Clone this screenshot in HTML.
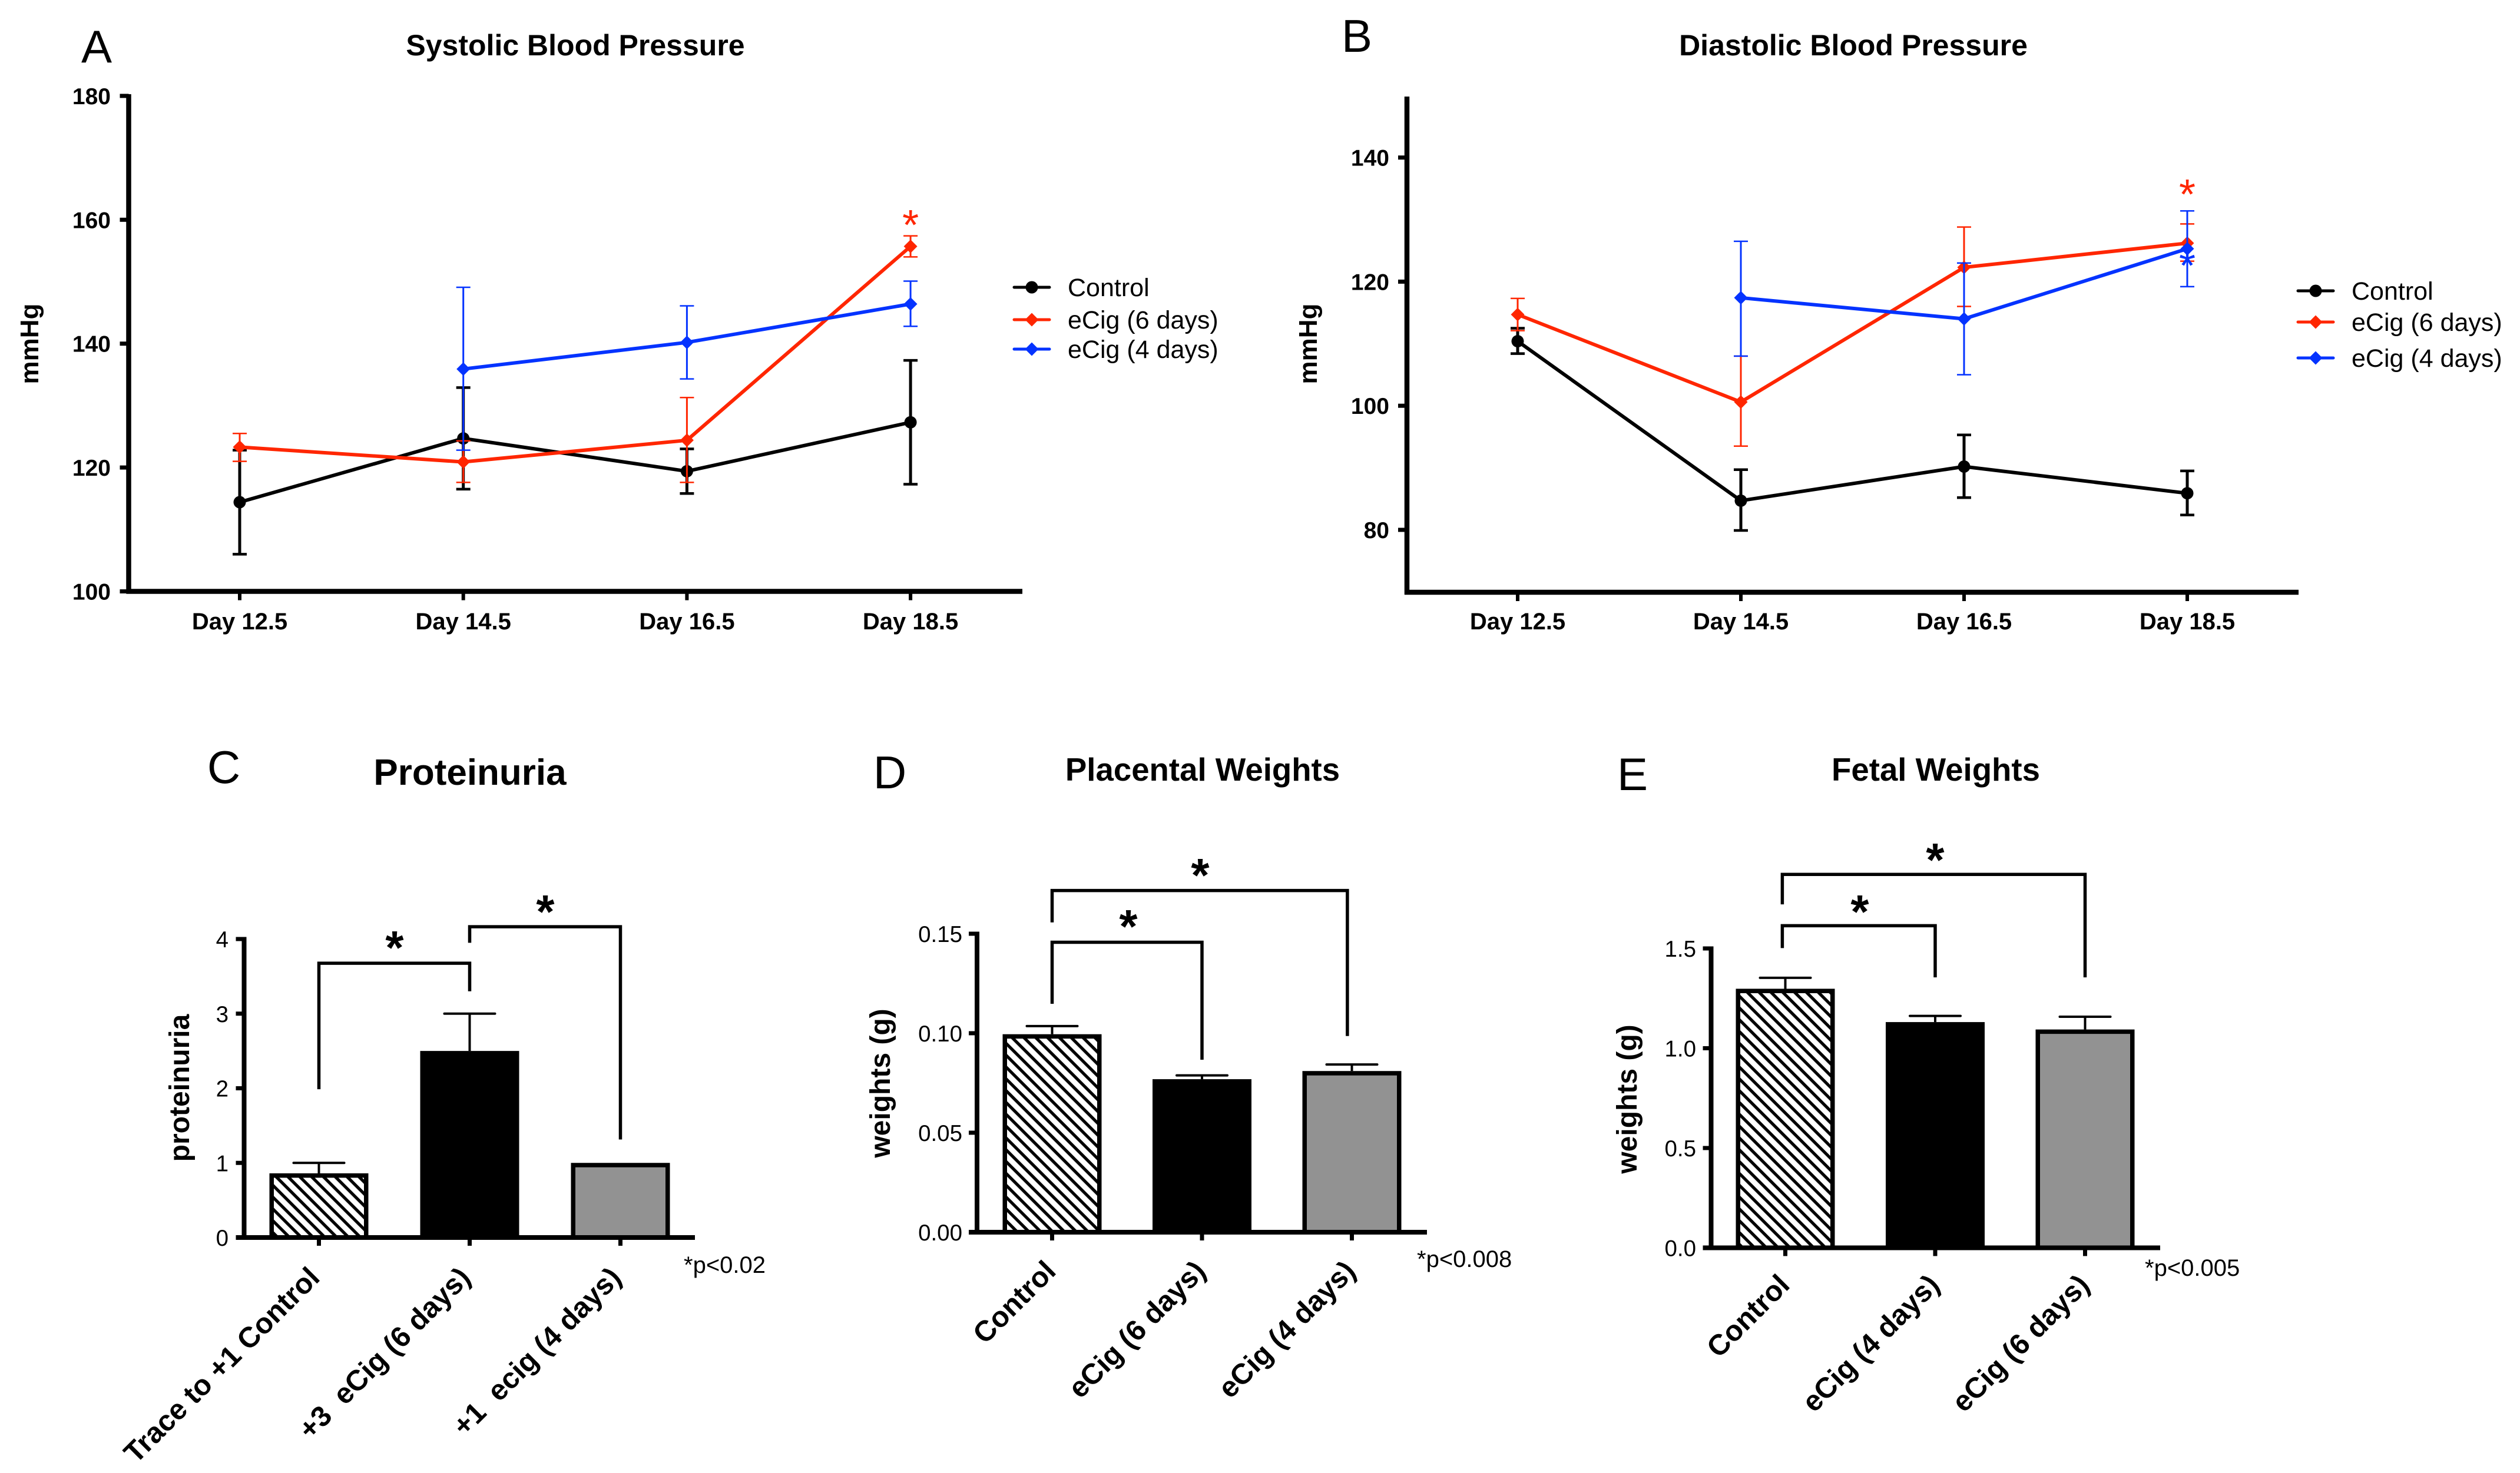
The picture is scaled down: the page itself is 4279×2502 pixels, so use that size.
<!DOCTYPE html>
<html lang="en">
<head>
<meta charset="utf-8">
<title>E-cigarette pregnancy outcomes figure</title>
<style>
html,body{margin:0;padding:0;background:#fff;}
svg{display:block;font-family:"Liberation Sans",Arial,sans-serif;}
text{white-space:pre;}
</style>
</head>
<body>
<svg id="figure" xmlns="http://www.w3.org/2000/svg" width="4279" height="2502" viewBox="0 0 4279 2502">
<rect width="4279" height="2502" fill="#fff"/>
<defs>
<pattern id="hatch" patternUnits="userSpaceOnUse" width="14.2" height="14.2" patternTransform="rotate(45)">
<rect width="14.2" height="14.2" fill="#fff"/>
<rect width="14.2" height="5.2" fill="#000"/>
</pattern>
</defs>
<text x="164" y="106" font-size="78" text-anchor="middle">A</text>
<text x="2304" y="88" font-size="78" text-anchor="middle">B</text>
<text x="380" y="1330" font-size="78" text-anchor="middle">C</text>
<text x="1511" y="1339" font-size="78" text-anchor="middle">D</text>
<text x="2772" y="1342" font-size="78" text-anchor="middle">E</text>
<text x="977" y="94" font-size="50" font-weight="bold" text-anchor="middle">Systolic Blood Pressure</text>
<text x="3147" y="94" font-size="50" font-weight="bold" text-anchor="middle">Diastolic Blood Pressure</text>
<text x="798" y="1333" font-size="62" font-weight="bold" text-anchor="middle">Proteinuria</text>
<text x="2042" y="1326" font-size="54.6" font-weight="bold" text-anchor="middle">Placental Weights</text>
<text x="3287" y="1326" font-size="54.6" font-weight="bold" text-anchor="middle">Fetal Weights</text>
<text transform="translate(65,584) rotate(-90)" font-size="44" font-weight="bold" text-anchor="middle">mmHg</text>
<text transform="translate(2236,584) rotate(-90)" font-size="44" font-weight="bold" text-anchor="middle">mmHg</text>
<text transform="translate(321,1848) rotate(-90)" font-size="48" font-weight="bold" text-anchor="middle">proteinuria</text>
<text transform="translate(1511,1840) rotate(-90)" font-size="48" font-weight="bold" text-anchor="middle">weights (g)</text>
<text transform="translate(2779,1867) rotate(-90)" font-size="48" font-weight="bold" text-anchor="middle">weights (g)</text>
<text x="1161" y="2162" font-size="40">*p&lt;0.02</text>
<text x="2406" y="2152" font-size="40">*p&lt;0.008</text>
<text x="3642" y="2167" font-size="40">*p&lt;0.005</text>
</svg>
<script>
// ---------- Data: blood pressure ----------
const dayLabels = ['Day 12.5', 'Day 14.5', 'Day 16.5', 'Day 18.5'];
const seriesNames = ['Control', 'eCig (6 days)', 'eCig (4 days)'];

const sbpTicks = [100, 120, 140, 160, 180];
const sbpControl = [114.4, 124.7, 119.4, 127.3];
const sbpControlHigh = [122.8, 132.9, 123.0, 137.3];
const sbpControlLow = [106.0, 116.5, 115.8, 117.3];
const sbpSixDays = [123.3, 120.9, 124.4, 155.7];
const sbpSixDaysHigh = [125.5, 124.3, 131.3, 157.4];
const sbpSixDaysLow = [121.0, 117.6, 117.6, 154.0];
const sbpFourDays = [null, 135.9, 140.2, 146.4];
const sbpFourDaysHigh = [null, 149.1, 146.1, 150.1];
const sbpFourDaysLow = [null, 122.8, 134.3, 142.8];

const dbpTicks = [80, 100, 120, 140];
const dbpControl = [110.4, 84.7, 90.2, 85.9];
const dbpControlHigh = [112.5, 89.7, 95.3, 89.5];
const dbpControlLow = [108.4, 79.9, 85.2, 82.4];
const dbpSixDays = [114.7, 100.6, 122.3, 126.2];
const dbpSixDaysHigh = [117.3, 108.0, 128.8, 129.3];
const dbpSixDaysLow = [112.1, 93.5, 116.0, 123.3];
const dbpFourDays = [null, 117.4, 114.0, 125.3];
const dbpFourDaysHigh = [null, 126.5, 123.0, 131.4];
const dbpFourDaysLow = [null, 108.0, 105.0, 119.2];

// ---------- Data: bars ----------
const protCategories = ['Trace to +1 Control', '+3  eCig (6 days)', '+1  ecig (4 days)'];
const protValues = [0.86, 2.5, 1.0];
const protErrorTops = [1.0, 3.0, null];
const protTicks = ['0', '1', '2', '3', '4'];
const protTickValues = [0, 1, 2, 3, 4];

const placCategories = ['Control', 'eCig (6 days)', 'eCig (4 days)'];
const placValues = [0.0995, 0.0769, 0.081];
const placErrorTops = [0.1036, 0.0788, 0.0843];
const placTicks = ['0.00', '0.05', '0.10', '0.15'];
const placTickValues = [0, 0.05, 0.10, 0.15];

const fetalCategories = ['Control', 'eCig (4 days)', 'eCig (6 days)'];
const fetalValues = [1.298, 1.131, 1.094];
const fetalErrorTops = [1.353, 1.162, 1.158];
const fetalTicks = ['0.0', '0.5', '1.0', '1.5'];
const fetalTickValues = [0, 0.5, 1.0, 1.5];

// Brackets: [from category, to category, bar value, from-leg end value, to-leg end value]
const protBrackets = [[0, 1, 3.676, 1.987, 3.30], [1, 2, 4.165, 3.95, 1.314]];
const placBrackets = [[0, 1, 0.1457, 0.1148, 0.0867], [0, 1.97, 0.1717, 0.1557, 0.0986]];
const fetalBrackets = [[-0.02, 1, 1.614, 1.502, 1.355], [-0.02, 2, 1.871, 1.721, 1.355]];

// ---------- Drawing ----------
const SVGNS = 'http://www.w3.org/2000/svg';
const figure = document.getElementById('figure');
const BLACK = '#000000';
const RED = '#FF2600';
const BLUE = '#0433FF';

function mk(parent, tag, attrs, text) {
  const node = document.createElementNS(SVGNS, tag);
  for (const key in attrs) node.setAttribute(key, attrs[key]);
  if (text !== undefined) node.textContent = text;
  parent.appendChild(node);
  return node;
}

function marker(parent, kind, x, y, color) {
  if (kind === 'circle') {
    return mk(parent, 'circle', { cx: x, cy: y, r: 10.5, fill: color });
  }
  const r = 11.5;
  return mk(parent, 'polygon', {
    points: (x - r) + ',' + y + ' ' + x + ',' + (y - r) + ' ' + (x + r) + ',' + y + ' ' + x + ',' + (y + r),
    fill: color
  });
}

function lineChart(id, L, ticks, series, stars) {
  const xScale = i => L.x0 + i * L.dx;
  const yScale = v => L.yRef - (v - L.vRef) * L.unit;
  const root = mk(figure, 'g', {});
  
  

  ticks.forEach(t => {
    const y = yScale(t);
    const tick = mk(root, 'line', { x1: L.axisX - 15, x2: L.axisX, y1: y, y2: y, stroke: '#000', 'stroke-width': 7 });
    
    
    const label = mk(root, 'text', { x: L.tickRight, y: y + 14, 'font-size': 39, 'font-weight': 'bold', 'text-anchor': 'end' }, String(t));
    
    
  });
  dayLabels.forEach((d, i) => {
    const x = xScale(i);
    const tick = mk(root, 'line', { x1: x, x2: x, y1: L.axisY, y2: L.axisY + 15, stroke: '#000', 'stroke-width': 6 });
    
    
    const label = mk(root, 'text', { x: x, y: L.labelY, 'font-size': 40, 'font-weight': 'bold', 'text-anchor': 'middle' }, d);
    
    
  });

  const yAxis = mk(root, 'line', { x1: L.axisX, x2: L.axisX, y1: L.axisTop, y2: L.axisY + 4, stroke: '#000', 'stroke-width': 8.5 });
  
  
  const xAxis = mk(root, 'line', { x1: L.axisX - 4, x2: L.axisEnd, y1: L.axisY, y2: L.axisY, stroke: '#000', 'stroke-width': 8.5 });
  
  

  series.forEach((s, si) => {
    const g = mk(root, 'g', {});
    
    
    const errW = s.kind === 'circle' ? 5 : 3;
    const pts = [];
    s.mean.forEach((v, i) => {
      if (v === null) return;
      const x = xScale(i);
      pts.push(x + ',' + yScale(v));
      const stem = mk(g, 'line', { x1: x, x2: x, y1: yScale(s.high[i]), y2: yScale(s.low[i]), stroke: s.color, 'stroke-width': errW });
      
      
      const capTop = mk(g, 'line', { x1: x - 12, x2: x + 12, y1: yScale(s.high[i]), y2: yScale(s.high[i]), stroke: s.color, 'stroke-width': errW - 0.5 });
      
      
      const capLow = mk(g, 'line', { x1: x - 12, x2: x + 12, y1: yScale(s.low[i]), y2: yScale(s.low[i]), stroke: s.color, 'stroke-width': errW - 0.5 });
      
      
    });
    const path = mk(g, 'polyline', { points: pts.join(' '), fill: 'none', stroke: s.color, 'stroke-width': 6, 'stroke-linejoin': 'round' });
    
    
    s.mean.forEach((v, i) => {
      if (v === null) return;
      const m = marker(g, s.kind, xScale(i), yScale(v), s.color);
      
      
    });
    const rowY = L.legendRows[si];
    const key = mk(root, 'line', { x1: L.legendX, x2: L.legendX + 60, y1: rowY, y2: rowY, stroke: s.color, 'stroke-width': 5, 'stroke-linecap': 'round' });
    
    
    const keyMark = marker(root, s.kind, L.legendX + 30, rowY, s.color);
    
    
    const keyText = mk(root, 'text', { x: L.legendX + 91, y: rowY + 15, 'font-size': 43 }, seriesNames[si]);
    
    
  });

  stars.forEach(st => {
    const star = mk(root, 'text', { x: xScale(3), y: st.y + 34, 'font-size': 72, 'text-anchor': 'middle', fill: st.color }, '*');
    
    
  });
}

function barChart(id, L, categories, values, errors, tickLabels, tickValues, brackets, starSpots) {
  const xScale = i => L.x0 + i * L.dx;
  const yScale = v => L.y0 - v * L.unit;
  const root = mk(figure, 'g', {});
  
  

  values.forEach((v, i) => {
    const cx = xScale(i);
    if (errors[i] !== null) {
      const stem = mk(root, 'line', { x1: cx, x2: cx, y1: yScale(errors[i]), y2: yScale(v), stroke: '#000', 'stroke-width': 4 });
      
      
      const cap = mk(root, 'line', { x1: cx - 43, x2: cx + 43, y1: yScale(errors[i]), y2: yScale(errors[i]), stroke: '#000', 'stroke-width': 4, 'stroke-linecap': 'round' });
      
      
    }
    const fills = ['url(#hatch)', '#000', '#929292'];
    const bar = mk(root, 'rect', { x: cx - 84 + 3.75, y: yScale(v) + 3.75, width: 168 - 7.5, height: Math.max(0, L.y0 - yScale(v) - 3.75), fill: fills[i], stroke: '#000', 'stroke-width': 7.5 });
    
    
  });

  const yAxis = mk(root, 'line', { x1: L.axisX, x2: L.axisX, y1: yScale(tickValues[tickValues.length - 1]) - 3.5, y2: L.y0 + 3, stroke: '#000', 'stroke-width': 8 });
  
  
  const xAxis = mk(root, 'line', { x1: L.axisX - 14, x2: L.axisEnd, y1: L.y0, y2: L.y0, stroke: '#000', 'stroke-width': 8 });
  
  

  tickValues.forEach((t, i) => {
    const y = yScale(t);
    const tick = mk(root, 'line', { x1: L.axisX - 14, x2: L.axisX, y1: y, y2: y, stroke: '#000', 'stroke-width': 7 });
    
    
    const label = mk(root, 'text', { x: L.tickRight, y: y + 14, 'font-size': 38.5, 'text-anchor': 'end' }, tickLabels[i]);
    
    
  });
  categories.forEach((c, i) => {
    const x = xScale(i);
    const tick = mk(root, 'line', { x1: x, x2: x, y1: L.y0, y2: L.y0 + 14, stroke: '#000', 'stroke-width': 7 });
    
    
    const label = mk(root, 'text', {
      transform: 'translate(' + (x + L.labelDx) + ',' + (L.y0 + L.labelDy) + ') rotate(-45)',
      'font-size': L.labelSize, 'font-weight': 'bold', 'text-anchor': 'end'
    }, c);
    
    
  });

  brackets.forEach((b, i) => {
    const xa = xScale(b[0]);
    const xb = xScale(b[1]);
    const bracket = mk(root, 'polyline', {
      points: xa + ',' + yScale(b[3]) + ' ' + xa + ',' + yScale(b[2]) + ' ' + xb + ',' + yScale(b[2]) + ' ' + xb + ',' + yScale(b[4]),
      fill: 'none', stroke: '#000', 'stroke-width': 5.5
    });
    
    
    const star = mk(root, 'text', { x: starSpots[i][0], y: starSpots[i][1] + 36, 'font-size': 80, 'font-weight': 'bold', 'text-anchor': 'middle' }, '*');
    
    
  });
}

lineChart('systolic',
  { x0: 407, dx: 379.7, vRef: 100, yRef: 1004.5, unit: 10.52, axisX: 218.5, axisTop: 160, axisY: 1004.5, axisEnd: 1736, tickRight: 188, labelY: 1069, legendX: 1722, legendRows: [488, 543, 593] },
  sbpTicks,
  [
    { mean: sbpControl, high: sbpControlHigh, low: sbpControlLow, color: BLACK, kind: 'circle' },
    { mean: sbpSixDays, high: sbpSixDaysHigh, low: sbpSixDaysLow, color: RED, kind: 'diamond' },
    { mean: sbpFourDays, high: sbpFourDaysHigh, low: sbpFourDaysLow, color: BLUE, kind: 'diamond' }
  ],
  [{ y: 373, color: RED }]
);

lineChart('diastolic',
  { x0: 2577, dx: 379, vRef: 80, yRef: 900, unit: 10.54, axisX: 2389, axisTop: 164, axisY: 1006, axisEnd: 3903, tickRight: 2359, labelY: 1069, legendX: 3902, legendRows: [494, 547, 608] },
  dbpTicks,
  [
    { mean: dbpControl, high: dbpControlHigh, low: dbpControlLow, color: BLACK, kind: 'circle' },
    { mean: dbpSixDays, high: dbpSixDaysHigh, low: dbpSixDaysLow, color: RED, kind: 'diamond' },
    { mean: dbpFourDays, high: dbpFourDaysHigh, low: dbpFourDaysLow, color: BLUE, kind: 'diamond' }
  ],
  [{ y: 321, color: RED }, { y: 442, color: BLUE }]
);

barChart('proteinuria',
  { x0: 541.5, dx: 256, y0: 2102, unit: 126.75, axisX: 414.5, axisEnd: 1180, tickRight: 388, labelDx: 4, labelDy: 71, labelSize: 49 },
  protCategories, protValues, protErrorTops, protTicks, protTickValues, protBrackets, [[670, 1601], [926, 1540]]
);

barChart('placental',
  { x0: 1786.5, dx: 254.5, y0: 2093, unit: 3380, axisX: 1659, axisEnd: 2423, tickRight: 1634, labelDx: 9, labelDy: 69, labelSize: 49 },
  placCategories, placValues, placErrorTops, placTicks, placTickValues, placBrackets, [[1916, 1565], [2038, 1478]]
);

barChart('fetal',
  { x0: 3031.5, dx: 254.5, y0: 2119.5, unit: 339, axisX: 2905.5, axisEnd: 3668, tickRight: 2880, labelDx: 10, labelDy: 66, labelSize: 49 },
  fetalCategories, fetalValues, fetalErrorTops, fetalTicks, fetalTickValues, fetalBrackets, [[3158, 1540], [3286, 1452]]
);
</script>
</body>
</html>
